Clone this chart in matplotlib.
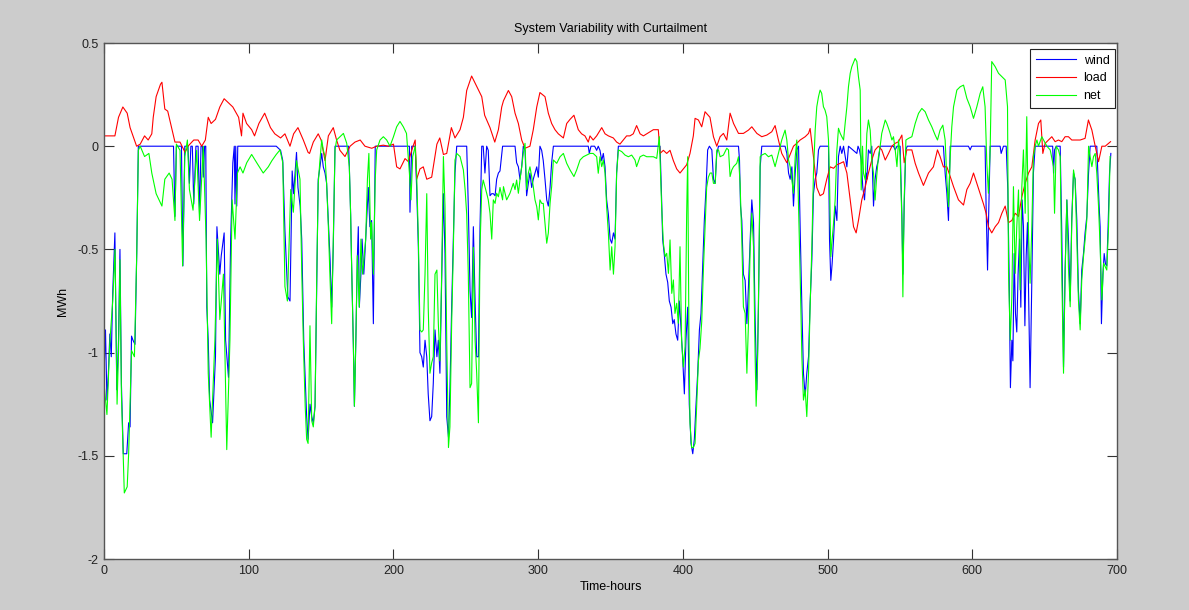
import numpy as np
import matplotlib.pyplot as plt

plt.rcParams['font.family'] = ['Liberation Sans', 'DejaVu Sans']

# (hour, MWh) points
wind_pts = [
    (0, -1.10), (1, -0.89), (2, -1.23), (3, -1.10), (4, -0.91), (5, -1.02), (6, -0.71), (7.5, -0.42),
    (8.8, -1.18), (10, -0.94), (11, -0.50), (12, -1.15), (13.3, -1.49), (15.7, -1.49), (17, -1.34),
    (18, -1.36), (19, -0.92), (20, -0.94), (21.4, -0.96), (22.6, -0.52), (23.7, 0), (48, 0), (49, -0.34),
    (50, 0), (53.5, 0), (54.5, -0.58), (55.8, 0), (58, 0), (59, -0.18), (60, 0), (61, 0), (62, -0.28),
    (63.5, 0), (65, 0), (66, -0.33), (67, 0), (68, 0), (68.6, -0.15), (69.5, 0), (70.3, 0), (71, -0.78),
    (72, -0.94), (73, -1.23), (75, -1.34), (77, -1.02), (78, -0.39), (80, -0.62), (81, -0.53), (83, -0.42),
    (84, -0.94), (86, -1.12), (87.5, -0.45), (89, -0.08), (90, 0), (90.5, -0.28), (91, 0), (91.7, -0.29),
    (92.4, 0), (119, 0), (122, -0.02), (123.5, -0.07), (125, -0.41), (127, -0.73), (128.5, -0.75),
    (130, -0.12), (131, -0.23), (133, -0.03), (134, -0.20), (135.5, -0.29), (136.6, -0.45), (138, -0.94),
    (140, -1.31), (141, -1.42), (142.3, -1.25), (143.5, -1.31), (144.6, -1.34), (145.8, -1.26), (147, -0.66),
    (148, -0.16), (149.2, -0.10), (150.4, -0.035), (151.5, -0.10), (152.7, -0.13), (153.8, -0.18),
    (155, -0.37), (156.2, -0.55), (157.3, -0.78), (158.4, -0.49), (159.6, 0), (169, 0), (169.5, -0.10),
    (170.4, -0.33), (171, -0.55), (172.3, -0.97), (173, -1.26), (174, -0.94), (175, -0.55), (175.7, -0.39),
    (176.4, -0.78), (177.5, -0.62), (178.3, -0.45), (179.5, -0.62), (180.8, -0.45), (182.6, -0.20),
    (183.7, -0.39), (184.9, -0.36), (186.1, -0.86), (187.4, 0), (211, 0), (211.4, -0.32), (212.6, 0),
    (215, 0), (216, -0.20), (217.2, -0.49), (218.3, -1.00), (219.5, -1.02), (220.6, -1.07), (221.8, -0.94),
    (223, -1.02), (224, -1.20), (225.2, -1.33), (226.4, -1.31), (227.5, -1.15), (228.7, -0.89), (230, -1.02),
    (231, -0.94), (232.1, -1.10), (233.3, -0.65), (234.5, -0.23), (235.6, -0.52), (236.8, -1.31),
    (238, -1.41), (239, -1.18), (240.2, -0.78), (241.4, -0.45), (242.5, -0.13), (243.7, 0), (250.6, 0),
    (251.7, -0.29), (252.9, -0.70), (254, -0.83), (255.2, -0.39), (256.4, -0.75), (257.5, -1.02),
    (258.7, -1.02), (259.8, -0.39), (261, 0), (262, 0), (263.2, -0.13), (264.4, 0), (265.5, -0.02),
    (266.7, -0.24), (267.9, -0.23), (269, -0.23), (270.2, -0.24), (271.3, -0.16), (272.5, -0.13),
    (273.6, -0.12), (275.4, 0), (284, 0), (285.1, -0.08), (286.3, -0.10), (287.4, -0.16), (288.6, -0.10),
    (289.7, 0), (290.9, -0.02), (292, -0.24), (293.2, -0.18), (294.3, -0.13), (295.5, -0.20), (296.6, -0.16),
    (297.8, -0.13), (299, -0.10), (300.1, -0.15), (301.2, 0), (302.4, -0.02), (303.5, -0.07), (304.7, -0.16),
    (305.9, -0.26), (307, -0.29), (308.2, -0.20), (309.3, -0.08), (310.5, 0), (334.6, 0), (335.3, -0.035),
    (336.5, 0), (339, 0), (340.4, -0.02), (341.5, 0), (342.7, -0.02), (343.9, -0.07), (345, -0.035),
    (346.2, -0.10), (347.3, -0.26), (348.5, -0.33), (349.7, -0.45), (350.8, -0.47), (352, -0.42),
    (353.1, -0.45), (354.2, -0.13), (355.4, 0), (384.2, 0), (385.3, -0.26), (386, -0.45), (387.2, -0.53),
    (388.3, -0.62), (389.5, -0.66), (390.6, -0.75), (391.8, -0.78), (393, -0.86), (394, -0.84),
    (395.2, -0.91), (396.4, -0.94), (397.5, -0.75), (398.6, -0.87), (399.8, -1.02), (401, -1.20),
    (402.1, -0.94), (403.3, -0.78), (404.4, -1.25), (405.6, -1.44), (406.8, -1.49), (407.9, -1.42),
    (409, -1.26), (410.2, -1.10), (411.4, -0.89), (412.5, -0.81), (413.7, -0.58), (414.8, -0.36),
    (416, -0.20), (417.1, -0.018), (418.3, 0), (420, -0.018), (421.1, -0.16), (422.3, -0.18),
    (423.4, -0.035), (424.6, 0), (438.4, 0), (439.1, -0.067), (439.8, -0.29), (440.7, -0.36),
    (441.8, -0.62), (443, -0.65), (444.2, -0.86), (445.3, -0.68), (446.5, -0.45), (447.6, -0.26),
    (448.8, -0.37), (449.9, -0.84), (451.1, -1.18), (452.2, -0.78), (453.4, -0.10), (454.5, 0), (470.6, 0),
    (471.8, -0.035), (473, -0.13), (474.1, -0.16), (475.3, -0.10), (476.4, -0.29), (477.6, -0.13),
    (478.7, -0.018), (479.9, 0), (481, -0.39), (482.2, -0.78), (483.3, -1.10), (484.5, -1.21),
    (485.6, -1.10), (486.8, -1.02), (487.9, -0.76), (489.1, -0.55), (490.2, -0.23), (491.4, -0.16),
    (492.5, -0.13), (493.7, -0.018), (494.8, 0), (500.6, 0), (501.3, -0.45), (502.2, -0.65), (503.1, -0.57),
    (504.1, -0.45), (505.2, -0.29), (506.4, -0.36), (507.5, -0.05), (508.7, 0), (509.8, -0.035), (511, 0),
    (513.3, -0.10), (514.4, 0), (520.2, -0.035), (521, 0), (522, -0.018), (523.2, -0.067), (524.3, -0.20),
    (525.5, -0.26), (526.6, -0.13), (527.1, -0.16), (528.2, -0.018), (529.4, -0.035), (530.5, 0),
    (531.7, -0.29), (532.8, -0.16), (533.9, -0.10), (535.1, -0.067), (536.3, 0), (545.5, 0),
    (546.7, -0.018), (547.9, 0), (550.1, 0), (551.3, -0.33), (552, -0.62), (552.9, -0.29), (554, -0.018),
    (555, 0), (580, 0), (581.2, -0.13), (582.4, -0.23), (583.5, -0.36), (584.7, 0), (597.3, 0),
    (598.5, -0.018), (599.5, 0), (608.8, 0), (609.5, -0.29), (610.5, -0.60), (611.1, -0.39), (612.3, 0),
    (619.2, 0), (619.9, -0.035), (621.5, 0), (623.4, 0), (624.5, -0.21), (625.4, -0.62), (626.3, -1.17),
    (627.3, -0.94), (628, -1.04), (628.9, -0.52), (629.8, -0.81), (630.7, -0.90), (631.6, -0.62),
    (632.6, -0.45), (633.5, -0.78), (634.4, -0.26), (635.3, -0.39), (636.3, -0.87), (637.2, -0.53),
    (638.1, -0.37), (639, -0.78), (639.9, -1.17), (641.1, -0.65), (642.2, -0.13), (643.4, 0), (655.5, 0),
    (656.1, -0.13), (656.8, -0.018), (658, 0), (660.7, 0), (661.8, -0.42), (663, -1.07), (664.1, -0.60),
    (665.3, -0.26), (666.4, -0.45), (667.6, -0.75), (668.7, -0.35), (669.9, -0.13), (671, -0.16),
    (672.2, -0.36), (673.3, -0.70), (674.5, -0.86), (675.6, -0.60), (676.8, -0.52), (677.9, -0.42),
    (679.1, -0.34), (680.3, -0.13), (681.4, 0), (686, 0), (686.7, -0.13), (687.6, -0.29), (688.3, -0.39),
    (689.2, -0.86), (690.2, -0.62), (691.1, -0.52), (692, -0.57), (692.9, -0.58), (693.8, -0.39),
    (694.8, -0.13), (695.7, -0.035),
]

load_pts = [
    (0, 0.05), (4, 0.05), (7.5, 0.05), (10, 0.14), (13, 0.19), (16, 0.16), (18, 0.09), (20, 0.05),
    (22.5, 0.0), (25, 0.01), (28, 0.05), (30.5, 0.03), (33, 0.06), (34, 0.14), (36, 0.24), (39, 0.30),
    (40, 0.31), (42, 0.18), (44, 0.17), (47, 0.08), (49, 0.02), (52.5, 0.02), (56, -0.03), (58, 0.0),
    (62, 0.03), (65, 0.03), (67.5, 0.0), (70, 0.03), (72, 0.14), (74, 0.11), (77, 0.13), (80, 0.19),
    (83, 0.23), (86, 0.21), (89, 0.19), (93, 0.14), (95, 0.05), (96, 0.16), (98.5, 0.11), (102, 0.08),
    (104, 0.05), (107, 0.11), (111, 0.16), (115, 0.09), (118, 0.06), (122, 0.04), (125, 0.06),
    (128.5, 0.0), (131, 0.06), (134, 0.09), (137.7, 0.03), (141, -0.03), (142, -0.035), (144.6, 0.02),
    (148, 0.06), (150, 0.03), (152.7, -0.07), (155, 0.05), (158.4, 0.09), (160.7, 0.03), (163, -0.02),
    (166.5, -0.05), (170, 0.0), (173.4, 0.02), (177, 0.03), (180.3, 0.0), (185, -0.01), (188.4, 0.0),
    (193, 0.005), (196.4, 0.0), (200, 0.01), (202.2, -0.10), (204.5, -0.11), (208, -0.06), (210.3, -0.075),
    (212.6, -0.02), (215, 0.03), (216, -0.16), (218.3, -0.11), (220.6, -0.10), (223, -0.16), (226.4, -0.15),
    (230, 0.01), (232, 0.04), (234.5, -0.04), (236.8, -0.035), (240, 0.09), (242.5, 0.04), (246, 0.08),
    (248.3, 0.14), (250.6, 0.27), (254, 0.34), (257.5, 0.29), (261, 0.24), (263, 0.15), (266.7, 0.09),
    (270, 0.02), (272.5, 0.08), (274.8, 0.19), (276, 0.22), (279.4, 0.27), (281.7, 0.24), (284, 0.16),
    (286.3, 0.11), (288.6, 0.03), (290.9, -0.01), (294.3, 0.0), (296.6, 0.08), (299, 0.19), (301.2, 0.26),
    (304.7, 0.24), (307, 0.16), (309.3, 0.11), (311.6, 0.08), (313.9, 0.06), (317.4, 0.04), (319.7, 0.11),
    (322, 0.13), (324.7, 0.15), (327.7, 0.08), (330, 0.06), (332.3, 0.05), (334.6, 0.02), (335.8, 0.05),
    (338, 0.03), (340.4, 0.05), (343.9, 0.09), (346.2, 0.06), (348.5, 0.05), (351.9, 0.04), (354.2, 0.02),
    (356.5, 0.01), (358.8, 0.03), (361.1, 0.05), (363.4, 0.05), (365.7, 0.06), (368, 0.10), (370.4, 0.06),
    (372.7, 0.05), (375, 0.06), (377.3, 0.07), (379.6, 0.08), (383, 0.08), (384.2, -0.035), (386.5, -0.02),
    (388.8, -0.035), (391.1, -0.02), (393.4, -0.07), (395.7, -0.11), (398, -0.13), (400.3, -0.11),
    (402.6, -0.09), (404.9, -0.035), (407.2, 0.05), (408.4, 0.135), (410.7, 0.127), (413, 0.094),
    (415.3, 0.167), (418.7, 0.14), (421.1, 0.046), (423.4, 0.0), (425.7, 0.046), (428, 0.062),
    (430.3, 0.03), (432.6, 0.16), (435, 0.11), (438.4, 0.062), (441.8, 0.062), (445.3, 0.078),
    (447.6, 0.094), (451.1, 0.062), (454.5, 0.046), (458, 0.054), (461.4, 0.07), (463.7, 0.10),
    (466, 0.03), (468.3, -0.035), (471.8, -0.08), (474.1, -0.04), (476.4, 0.0), (478.7, 0.014),
    (481, 0.03), (484.5, 0.046), (486.8, 0.062), (487.9, 0.086), (490.2, -0.05), (492.5, -0.20),
    (494.8, -0.24), (497.1, -0.23), (499.4, -0.16), (501.7, -0.10), (504.1, -0.107), (506.4, -0.09),
    (508.7, -0.083), (511, -0.075), (513.3, -0.13), (515.6, -0.26), (517.9, -0.39), (519.7, -0.42),
    (521.3, -0.36), (523.6, -0.26), (525.9, -0.20), (528.2, -0.13), (530.5, -0.067), (532.8, -0.018),
    (535.1, 0.0), (537.4, -0.018), (539.8, -0.067), (542.1, -0.035), (544.4, 0.0), (546.7, 0.014),
    (549, 0.022), (551.3, 0.054), (552.9, -0.08), (554.7, -0.018), (558.2, -0.018), (560.5, -0.083),
    (562.8, -0.13), (566.2, -0.19), (569.7, -0.13), (573.1, -0.10), (575.9, -0.018), (577.7, -0.05),
    (580, -0.10), (582.4, -0.10), (584.7, -0.147), (587, -0.196), (590.4, -0.26), (593.9, -0.285),
    (596.2, -0.21), (598.5, -0.18), (600.8, -0.13), (603.1, -0.18), (605.4, -0.23), (607.7, -0.28),
    (609.5, -0.325), (611.1, -0.39), (613.4, -0.42), (615.8, -0.39), (618.1, -0.37), (620.4, -0.325),
    (622.7, -0.29), (625, -0.37), (627.3, -0.36), (629.6, -0.325), (631.9, -0.34), (634.2, -0.245),
    (636.5, -0.18), (638.8, -0.13), (641.1, -0.10), (643.4, 0.03), (645.7, 0.11), (647.3, 0.127),
    (648.7, -0.035), (650.3, 0.014), (652.6, 0.03), (654.9, 0.046), (657.2, 0.022), (659.5, 0.03),
    (661.8, 0.022), (664.1, 0.046), (666.4, 0.046), (668.7, 0.03), (671, 0.03), (674.5, 0.03),
    (677.9, 0.038), (680.2, 0.127), (682.6, 0.078), (684.9, 0.0), (687.2, -0.075), (689.5, 0.0),
    (691.8, 0.0), (694.1, 0.014), (695.5, 0.022),
]

net_pts = [
    (0, -1.15), (2, -1.30), (4, -0.95), (6, -0.75), (7.6, -0.50), (9, -1.25), (10, -1.0), (11, -0.55),
    (12, -1.2), (14, -1.68), (16, -1.65), (17, -1.49), (19, -0.99), (21, -1.02), (22.6, -0.52),
    (23.7, -0.02), (25, 0.0), (28, -0.05), (31, -0.035), (33, -0.13), (36, -0.23), (40, -0.29),
    (42, -0.16), (45, -0.13), (47, -0.16), (49, -0.36), (50, 0.01), (52.5, -0.02), (54.3, -0.58),
    (55.8, -0.05), (57.6, 0.03), (59, -0.21), (61.5, -0.31), (64, -0.02), (66, -0.36), (68.6, 0.0),
    (70.5, -0.45), (72, -1.1), (74, -1.41), (76.6, -0.94), (78.3, -0.45), (80, -0.84), (82.5, -0.62),
    (84.8, -1.47), (87, -0.94), (88.5, -0.26), (90.5, -0.45), (92.2, -0.13), (94, -0.1), (96, -0.13),
    (98.6, -0.08), (102, -0.04), (105.5, -0.08), (110, -0.13), (113.5, -0.1), (116, -0.07), (119, -0.04),
    (121.6, -0.018), (123.5, -0.08), (125, -0.68), (126.7, -0.75), (128, -0.45), (129, -0.21),
    (130.8, -0.32), (133, -0.07), (135.4, -0.16), (136.6, -0.6), (137.7, -0.94), (139, -1.26),
    (140, -1.42), (141, -1.44), (142.3, -0.87), (143.5, -1.33), (144.6, -1.36), (145.8, -1.26),
    (147, -0.62), (148, -0.18), (149.2, -0.067), (150.4, 0.03), (151.5, -0.018), (152.7, -0.05),
    (153.8, -0.18), (155, -0.39), (156.2, -0.65), (157.3, -0.86), (158.4, -0.45), (159.6, -0.018),
    (160.7, 0.03), (163, 0.046), (165.4, 0.062), (167.7, 0.014), (169.5, -0.1), (170.4, -0.33),
    (171, -0.55), (172.3, -0.97), (173, -1.26), (174, -0.94), (175, -0.53), (176.4, -0.78), (177.5, -0.45),
    (178.7, -0.62), (179.6, -0.55), (180.8, -0.45), (182, -0.16), (183, -0.035), (184.2, -0.45),
    (184.9, -0.37), (186.1, -0.62), (187.4, -0.16), (188.4, -0.018), (190.7, 0.03), (193, 0.046),
    (195.3, 0.03), (197.6, 0.0), (200, 0.046), (202.2, 0.094), (204.5, 0.12), (206.8, 0.094), (209, 0.062),
    (211, -0.13), (212.1, -0.26), (213.3, -0.05), (215, 0.0), (216, -0.13), (217.2, -0.45), (218.3, -0.89),
    (219.5, -0.90), (220.6, -0.89), (221.8, -0.62), (223, -0.23), (224, -0.78), (225.2, -1.1),
    (226.4, -1.05), (227.5, -1.02), (228.7, -0.62), (230, -0.6), (231, -0.86), (232.1, -1.04),
    (233.3, -0.62), (234.5, -0.05), (235.6, -0.29), (236.8, -0.94), (238, -1.46), (239, -1.36),
    (240.2, -0.86), (241.4, -0.49), (242.5, -0.067), (243.7, -0.035), (246, -0.05), (248.3, -0.115),
    (249.5, -0.21), (250.6, -0.33), (251.7, -0.62), (252.9, -1.17), (254, -1.15), (255.2, -0.49),
    (256.4, -0.94), (257.5, -1.1), (258.7, -1.34), (259.8, -0.49), (261, -0.21), (262, -0.164),
    (263.2, -0.196), (264.4, -0.228), (265.5, -0.26), (266.7, -0.325), (267.9, -0.45), (269, -0.26),
    (270.2, -0.277), (271.3, -0.228), (272.5, -0.245), (273.6, -0.2), (275.4, -0.26), (276, -0.196),
    (278.2, -0.26), (280.5, -0.228), (282.8, -0.18), (284, -0.21), (285.1, -0.164), (286.3, -0.228),
    (287.4, -0.164), (288.6, -0.1), (289.7, -0.035), (290.9, 0.014), (292, -0.21), (293.2, -0.13),
    (294.3, -0.1), (295.5, -0.147), (296.6, -0.196), (297.8, -0.26), (299, -0.293), (300.1, -0.357),
    (301.2, -0.26), (302.4, -0.277), (303.5, -0.277), (304.7, -0.373), (305.9, -0.47), (307, -0.42),
    (308.2, -0.277), (309.3, -0.196), (310.5, -0.067), (312.8, -0.083), (315.1, -0.051), (317.4, -0.035),
    (319.7, -0.083), (322, -0.115), (324.7, -0.147), (326.6, -0.115), (328.9, -0.067), (331.2, -0.051),
    (333.5, -0.043), (335.8, -0.035), (338, -0.035), (340.4, -0.051), (341.5, -0.131), (342.7, -0.051),
    (343.9, -0.099), (345, -0.067), (346.2, -0.131), (347.3, -0.293), (348.5, -0.422), (349.7, -0.6),
    (350.8, -0.487), (352, -0.62), (353.1, -0.487), (354.2, -0.131), (355.4, -0.018), (357.7, -0.026),
    (360, -0.043), (362.3, -0.051), (364.6, -0.043), (366.9, -0.067), (368, -0.099), (370.4, -0.051),
    (372.7, -0.043), (375, -0.051), (377.3, -0.051), (379.6, -0.051), (381.9, -0.059), (383.7, 0.046),
    (385.3, -0.293), (386.5, -0.47), (387.7, -0.535), (388.8, -0.519), (390, -0.616), (391.1, -0.454),
    (392.3, -0.713), (393.4, -0.648), (394.5, -0.81), (395.7, -0.761), (396.8, -0.858), (398, -0.487),
    (399.1, -0.94), (400.3, -1.07), (401.5, -0.97), (402.6, -0.325), (403.3, -0.051), (404.2, -0.94),
    (404.9, -1.34), (406, -1.46), (407.2, -1.46), (408.4, -1.44), (409.5, -1.26), (410.7, -1.04),
    (411.8, -0.98), (413, -0.85), (414.2, -0.59), (415.3, -0.39), (416.4, -0.2), (417.6, -0.15),
    (418.8, -0.13), (420, -0.13), (421.1, -0.18), (422.3, -0.18), (423.4, -0.018), (424.6, -0.018),
    (425.7, -0.051), (428, -0.043), (430.3, -0.01), (431.5, -0.018), (432.6, -0.147), (433.8, -0.115),
    (435, -0.099), (437.2, -0.083), (438.4, -0.051), (439.5, -0.18), (440.7, -0.454), (441.8, -0.778),
    (443, -0.81), (444.2, -1.1), (445.3, -0.858), (446.5, -0.487), (447.6, -0.325), (448.8, -0.487),
    (449.9, -1.02), (450.6, -1.26), (451.5, -1.07), (452.4, -0.648), (453.4, -0.051), (454.5, -0.043),
    (456.8, -0.035), (459.1, -0.051), (461.4, -0.043), (463.7, -0.099), (466, -0.035), (468.3, 0.03),
    (470.6, 0.078), (471.8, 0.03), (473, -0.067), (474.1, -0.099), (475.3, -0.164), (476.4, -0.228),
    (477.6, -0.051), (478.7, 0.03), (479.9, -0.293), (481, -0.616), (482.2, -1.02), (483.3, -1.23),
    (484.5, -1.18), (485.6, -1.31), (486.8, -1.1), (487.9, -0.778), (489.1, -0.487), (490.2, -0.131),
    (491.4, 0.078), (492.5, 0.191), (493.7, 0.24), (494.8, 0.272), (495.9, 0.256), (497.1, 0.191),
    (498.2, 0.175), (499.4, 0.143), (500.6, 0.03), (501.3, -0.164), (502.2, -0.535), (503.1, -0.454),
    (504.1, -0.373), (505.2, -0.26), (506.4, -0.018), (507.5, 0.087), (508.7, 0.062), (509.8, 0.046),
    (511, 0.03), (512.1, 0.11), (513.3, 0.191), (514.4, 0.288), (515.6, 0.353), (516.7, 0.385),
    (519, 0.425), (520.2, 0.41), (521.3, 0.337), (522.5, 0.272), (523.2, -0.212), (524.1, 0.0),
    (524.8, -0.131), (526, -0.164), (527.1, 0.062), (528.2, 0.127), (529.4, 0.078), (530.5, -0.067),
    (531.7, -0.131), (532.8, -0.261), (533.9, -0.147), (535.1, -0.051), (536.3, 0.0), (537.4, 0.062),
    (538.6, 0.094), (539.8, 0.127), (540.9, 0.11), (542.1, 0.086), (543.2, 0.062), (544.4, 0.03),
    (545.5, 0.046), (546.7, -0.018), (547.9, -0.099), (549, 0.03), (550.1, -0.05), (551.3, -0.36),
    (552, -0.73), (552.9, -0.26), (554.1, 0.03), (555.9, 0.038), (558.2, 0.046), (560.5, 0.11),
    (562.8, 0.159), (565.1, 0.183), (567.4, 0.167), (569.7, 0.127), (572, 0.094), (574.3, 0.054),
    (575.9, 0.03), (577.7, 0.078), (579.6, 0.102), (581.2, 0.03), (582.4, -0.164), (583.5, -0.293),
    (584.7, -0.05), (585.8, 0.094), (587, 0.191), (589.3, 0.272), (591.6, 0.288), (593.9, 0.296),
    (596.2, 0.232), (598.5, 0.191), (600.8, 0.135), (603.1, 0.191), (605.4, 0.256), (607.2, 0.288),
    (608.8, 0.191), (610, -0.083), (611.1, -0.228), (612.3, -0.018), (613.4, 0.41), (615.8, 0.385),
    (618.1, 0.353), (620.4, 0.337), (622.7, 0.321), (624.3, 0.191), (625, -0.616), (626.2, -0.94),
    (627.3, -0.73), (628.4, -0.196), (629.6, -0.616), (630.7, -0.39), (631.9, -0.212), (633, -0.696),
    (634.2, -0.196), (635.3, -0.018), (636.5, -0.325), (637.6, 0.143), (638.8, -0.422), (639.9, -0.664),
    (641.1, -0.39), (642.2, -0.05), (643.4, 0.0), (644.6, 0.03), (645.7, 0.0), (648, 0.046), (649.2, 0.03),
    (651.5, 0.0), (653.8, -0.018), (656.1, -0.099), (656.8, -0.325), (657.9, 0.0), (659.5, -0.018),
    (660.7, -0.051), (661.8, -0.616), (663, -1.1), (664.1, -0.616), (665.3, -0.261), (666.4, -0.584),
    (667.6, -0.778), (668.7, -0.373), (669.9, -0.115), (671, -0.164), (672.2, -0.454), (673.3, -0.745),
    (674.5, -0.89), (675.6, -0.648), (676.8, -0.535), (677.9, -0.454), (679.1, -0.357), (680.3, 0.0),
    (681.4, -0.051), (682.6, -0.099), (683.7, -0.051), (684.9, -0.035), (686, -0.131), (687.2, -0.293),
    (688.3, -0.487), (689.5, -0.745), (690.7, -0.567), (691.8, -0.584), (692.9, -0.6), (694.1, -0.39),
    (695.2, -0.05),
]

wind_h, wind = zip(*wind_pts)
load_h, load = zip(*load_pts)
net_h, net = zip(*net_pts)

x_ticks = [0, 100, 200, 300, 400, 500, 600, 700]
y_ticks = [-2, -1.5, -1, -0.5, 0, 0.5]
y_tick_labels = ['-2', '-1.5', '-1', '-0.5', '0', '0.5']

fig = plt.figure(figsize=(11.89, 6.10), dpi=100, facecolor='#cccccc')
ax = fig.add_axes([0.0875, 0.0836, 0.8520, 0.8459])

ax.plot(wind_h, wind, color='#0000ff', lw=0.8, label='wind')
ax.plot(load_h, load, color='#ff0000', lw=0.8, label='load')
ax.plot(net_h, net, color='#00ff00', lw=0.8, label='net')

ax.set_xlim(0, 700)
ax.set_ylim(-2, 0.5)
ax.set_xticks(x_ticks)
ax.set_yticks(y_ticks)
ax.set_yticklabels(y_tick_labels)
ax.tick_params(direction='in', top=True, right=True, length=7, width=0.8,
               colors='#333333', labelsize=9, labelcolor='#222222', pad=4)
for s in ax.spines.values():
    s.set_color('#555555')
    s.set_linewidth(1.0)

ax.set_title('System Variability with Curtailment', fontsize=9, pad=8)
ax.set_xlabel('Time-hours', fontsize=9, labelpad=3.5)
ax.set_ylabel('MWh', fontsize=9, labelpad=6)

leg = ax.legend(loc='upper right', bbox_to_anchor=(0.998, 0.988), fontsize=9,
                fancybox=False, framealpha=1, edgecolor='#222222', handlelength=3.2,
                borderaxespad=0, labelspacing=0.45, handletextpad=0.6, borderpad=0.45)
leg.get_frame().set_linewidth(0.8)

fig.savefig('out.png', dpi=100, facecolor=fig.get_facecolor())
